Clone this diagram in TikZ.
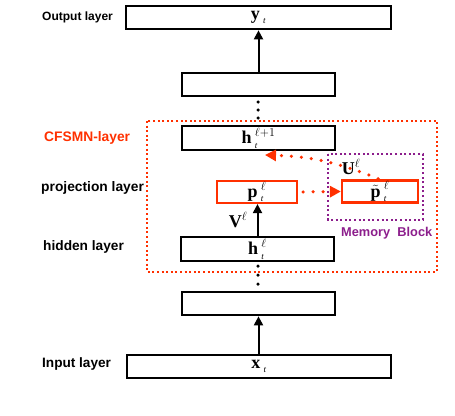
\documentclass[tikz,border=0pt]{standalone}
\usepackage{amsmath}
\usepackage{fontspec}
\setmainfont{Liberation Serif}
\newfontfamily\lsans{Liberation Sans}
\usetikzlibrary{arrows.meta}
\definecolor{cfred}{RGB}{255,48,0}
\definecolor{cfpurple}{RGB}{140,30,140}
\newcommand\vsym[3]{{#1\mkern3.5mu}_{\scriptscriptstyle\textit{#2}}^{#3}}
\tikzset{
  blk/.style={draw=black, line width=2.2pt, inner sep=0pt, minimum height=23.5pt,
    font=\fontsize{18}{18}\selectfont},
  redbox/.style={draw=cfred, line width=2.2pt, inner sep=0pt, minimum height=22pt,
    font=\fontsize{18}{18}\selectfont},
  lab/.style={anchor=west, inner sep=0pt, font=\lsans\bfseries},
  arr/.style={line width=2pt, -{Triangle[length=9pt,width=9pt]}},
  rdot/.style={cfred, line width=3.5pt, line cap=round, dash pattern=on 0pt off 10pt,
    -{Triangle[length=11pt,width=11pt]}},
  bdot/.style={fill=black, circle, inner sep=0pt, minimum size=3.5pt},
  mlab/.style={inner sep=0pt, font=\fontsize{18}{18}\selectfont}
}
\begin{document}
\begin{tikzpicture}[x=1pt,y=-1pt]
\useasboundingbox (0,0) rectangle (455,415);
% boxes
\node[blk, minimum width=264.5pt] (out) at (258.5,17.5) {$\vsym{\textbf{y}}{t}{}$};
\node[blk, minimum width=153.5pt] (b2) at (258.5,84.5) {};
\node[blk, minimum width=153.5pt] (h1) at (258.5,138) {$\vsym{\textbf{h}}{t}{\ell+1}$};
\node[redbox, minimum width=80pt] (p) at (257,192) {$\vsym{\textbf{p}}{t}{\ell}$};
\node[redbox, minimum width=76pt] (pt) at (380,191.5) {$\vsym{\tilde{\textbf{p}}}{t}{\ell}$};
\node[blk, minimum width=153.5pt] (h) at (257.5,249) {$\vsym{\textbf{h}}{t}{\ell}$};
\node[blk, minimum width=153.5pt] (b3) at (258.5,303.5) {};
\node[blk, minimum width=264.5pt] (inp) at (259,366.5) {$\vsym{\textbf{x}}{t}{}$};
% dotted frames
\draw[cfred, line width=2pt, dash pattern=on 2pt off 2.6pt] (147,121) rectangle (437,272);
\draw[cfpurple, line width=2pt, dash pattern=on 2pt off 2.6pt] (328,154) rectangle (423,220);
% vertical dots
\foreach \yy in {102,110,118} \node[bdot] at (258,\yy) {};
\foreach \yy in {266,275,284} \node[bdot] at (258,\yy) {};
% arrows
\draw[arr] (inp.north -| b3.south) -- (b3.south);
\draw[arr] (b2.north) -- (b2.north |- out.south);
\draw[arr] (h.north) -- (h.north |- p.south);
\coordinate (utip) at (265,155);
\draw[rdot, shorten <=5pt] (p.east) -- (pt.west);
\draw[rdot, shorten <=2pt] (pt.north) to[bend right=10] (utip);
% math labels
\node[mlab] (V) at (238,220) {$\textbf{V}^{\ell}$};
\node[mlab] (U) at (351,167) {$\textbf{U}^{\ell}$};
% side labels
\node[lab, font=\lsans\bfseries\fontsize{12}{12}\selectfont] (lo) at (42,17) {Output layer};
\node[lab, text=cfred, font=\lsans\bfseries\fontsize{13.8}{14}\selectfont] (lc) at (44,138) {CFSMN-layer};
\node[lab, font=\lsans\bfseries\fontsize{13.8}{14}\selectfont] (lp) at (41,188) {projection layer};
\node[lab, font=\lsans\bfseries\fontsize{13.7}{14}\selectfont] (lh) at (43,247) {hidden layer};
\node[lab, font=\lsans\bfseries\fontsize{13.6}{14}\selectfont] (li) at (42,364) {Input layer};
\node[lab, text=cfpurple, font=\lsans\bfseries\fontsize{12.8}{13}\selectfont] (lm) at (341,233) {Memory\ \ Block};
\end{tikzpicture}
\end{document}
